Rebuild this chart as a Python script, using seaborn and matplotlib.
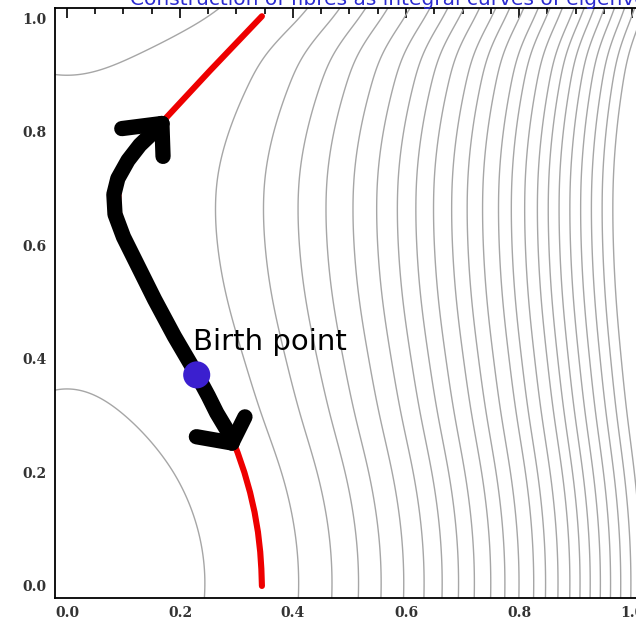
import numpy as np
import matplotlib
matplotlib.use("Agg")
import matplotlib.pyplot as plt
import seaborn as sns
from matplotlib.ticker import MultipleLocator, FormatStrFormatter

# ---------------- data ----------------
# height profile g(y) of the field f(x, y) = x^2 + g(y)
profile_y = [-0.05, 0.0, 0.1, 0.2, 0.3, 0.4, 0.5, 0.6, 0.66, 0.72, 0.8, 0.88, 0.94, 0.975, 1.0, 1.05]
profile_g = [0.0015, 0.0, 0.006, 0.024, 0.049, 0.070, 0.087, 0.097, 0.099, 0.097,
             0.086, 0.066, 0.042, 0.019, 0.0, -0.035]
# x where each gray contour meets y = 0
level_x0 = [0.244, 0.41, 0.469, 0.516, 0.556, 0.596, 0.632, 0.664, 0.693, 0.721,
            0.75, 0.775, 0.80, 0.826, 0.847, 0.869, 0.89, 0.908, 0.926, 0.944,
            0.962, 0.98, 0.998, 1.016]

# red fibre (integral curve)
fibre_x = [0.345, 0.344, 0.342, 0.338, 0.332, 0.324, 0.314, 0.302, 0.289, 0.272,
           0.252, 0.230, 0.190, 0.150, 0.118, 0.098, 0.090, 0.092, 0.102, 0.120,
           0.143, 0.168, 0.253, 0.345]
fibre_y = [0.000, 0.030, 0.060, 0.095, 0.130, 0.165, 0.200, 0.235, 0.268, 0.305,
           0.338, 0.372, 0.440, 0.520, 0.585, 0.630, 0.668, 0.705, 0.738, 0.768,
           0.793, 0.817, 0.908, 1.004]

# hand-drawn black arrows
arrow_up_x = [0.230, 0.190, 0.155, 0.125, 0.100, 0.085, 0.083, 0.090, 0.108, 0.129, 0.150, 0.168]
arrow_up_y = [0.372, 0.440, 0.505, 0.565, 0.615, 0.655, 0.690, 0.718, 0.750, 0.777, 0.797, 0.815]
arrow_up_head1_x = [0.168, 0.097]
arrow_up_head1_y = [0.815, 0.806]
arrow_up_head2_x = [0.168, 0.170]
arrow_up_head2_y = [0.815, 0.757]

arrow_down_x = [0.230, 0.250, 0.265, 0.283, 0.292]
arrow_down_y = [0.372, 0.335, 0.305, 0.275, 0.252]
arrow_down_head1_x = [0.292, 0.229]
arrow_down_head1_y = [0.252, 0.263]
arrow_down_head2_x = [0.292, 0.315]
arrow_down_head2_y = [0.252, 0.298]

birth_x = [0.2296]
birth_y = [0.372]
birth_label = "Birth point"

x_ticks = [0.0, 0.2, 0.4, 0.6, 0.8, 1.0]
y_ticks = [0.0, 0.2, 0.4, 0.6, 0.8, 1.0]
title = "Construction of fibres as integral curves of eigenvector fields"


def natural_spline(xk, yk, xq):
    xk = np.asarray(xk, float)
    yk = np.asarray(yk, float)
    n = len(xk)
    h = np.diff(xk)
    A = np.zeros((n, n))
    r = np.zeros(n)
    A[0, 0] = 1.0
    A[-1, -1] = 1.0
    for i in range(1, n - 1):
        A[i, i - 1] = h[i - 1]
        A[i, i] = 2 * (h[i - 1] + h[i])
        A[i, i + 1] = h[i]
        r[i] = 3 * ((yk[i + 1] - yk[i]) / h[i] - (yk[i] - yk[i - 1]) / h[i - 1])
    c = np.linalg.solve(A, r)
    b = (yk[1:] - yk[:-1]) / h - h * (2 * c[:-1] + c[1:]) / 3
    d = (c[1:] - c[:-1]) / (3 * h)
    idx = np.clip(np.searchsorted(xk, xq) - 1, 0, n - 2)
    t = xq - xk[idx]
    return yk[idx] + b[idx] * t + c[idx] * t ** 2 + d[idx] * t ** 3


# ---------------- figure ----------------
sns.set_style("white")
plt.rcParams['font.family'] = ['DejaVu Sans']

fig = plt.figure(figsize=(6.36, 6.24), dpi=100)
ax = fig.add_axes([55 / 636, 26 / 624, 589 / 636, 590 / 624])

gx = np.linspace(-0.05, 1.06, 700)
gy = np.linspace(-0.05, 1.05, 700)
gprof = natural_spline(profile_y, profile_g, gy)
X, Y = np.meshgrid(gx, gy)
F = X ** 2 + gprof[:, None]
levels = sorted(v ** 2 for v in level_x0)
ax.contour(X, Y, F, levels=levels, colors='#a6a6a6', linewidths=1.0, zorder=1)

# red fibre
sns.lineplot(x=fibre_x, y=fibre_y, sort=False, estimator=None, color='#ee0000',
             linewidth=4.4, ax=ax, zorder=2, solid_capstyle='round',
             solid_joinstyle='round')

# black arrows
for xs, ys in [(arrow_up_x, arrow_up_y), (arrow_up_head1_x, arrow_up_head1_y),
               (arrow_up_head2_x, arrow_up_head2_y), (arrow_down_x, arrow_down_y),
               (arrow_down_head1_x, arrow_down_head1_y), (arrow_down_head2_x, arrow_down_head2_y)]:
    sns.lineplot(x=xs, y=ys, sort=False, estimator=None, color='black', linewidth=11,
                 ax=ax, zorder=3, solid_capstyle='round', solid_joinstyle='round')

# birth point
sns.scatterplot(x=birth_x, y=birth_y, color='#3b1fcf', s=380, edgecolor='none',
                ax=ax, zorder=4)
ax.text(0.223, 0.416, birth_label, fontsize=21, color='black', va='baseline',
        ha='left', zorder=5)

# axes styling
ax.set_xlim(-0.0212, 1.0212)
ax.set_ylim(-0.0212, 1.0185)
ax.xaxis.set_minor_locator(MultipleLocator(0.05))
ax.yaxis.set_minor_locator(MultipleLocator(0.05))
ax.set_xticks(x_ticks)
ax.set_yticks(y_ticks)
ax.xaxis.set_major_formatter(FormatStrFormatter('%.1f'))
ax.yaxis.set_major_formatter(FormatStrFormatter('%.1f'))
ax.tick_params(which='both', direction='in', top=True, right=False, color='black',
               width=1.2)
ax.tick_params(which='major', length=7, pad=6)
ax.tick_params(which='minor', length=4)
for lab in ax.get_xticklabels() + ax.get_yticklabels():
    lab.set_family('DejaVu Serif')
    lab.set_fontsize(10)
    lab.set_fontweight('bold')
    lab.set_color('#333333')
for sp in ax.spines.values():
    sp.set_visible(True)
    sp.set_color('black')
    sp.set_linewidth(1.3)
ax.set_xlabel('')
ax.set_ylabel('')

fig.text(130 / 636, 1 - 5 / 624, title, color='#2b2bd0', fontsize=14.5,
         va='baseline', ha='left')

fig.savefig('out.png', dpi=100)
